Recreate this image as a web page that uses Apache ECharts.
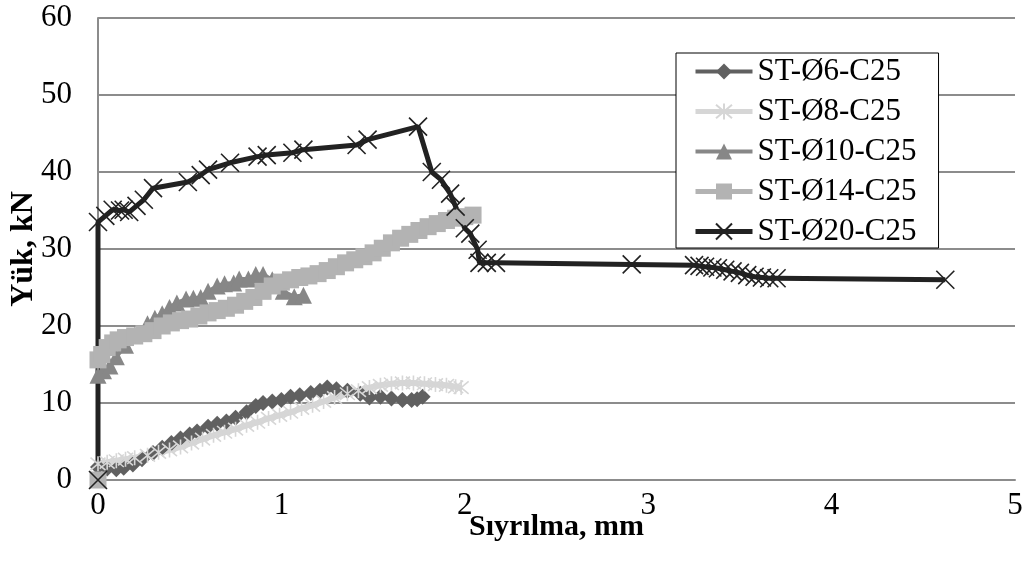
<!DOCTYPE html>
<html>
<head>
<meta charset="utf-8">
<script src="https://cdn.jsdelivr.net/npm/echarts@6/dist/echarts.min.js"></script>
<style>html,body{margin:0;padding:0;background:#fff}#c{width:1030px;height:570px}</style>
</head>
<body>
<div id="c"></div>
<script>
const seriesNames = ['ST-Ø6-C25','ST-Ø8-C25','ST-Ø10-C25','ST-Ø14-C25','ST-Ø20-C25'];
const xTicks = [0,1,2,3,4,5];
const yTicks = [0,10,20,30,40,50,60];

const d6 = [[0,1.7],[0.05,1.5],[0.1,1.4],[0.14,1.6],[0.19,2.0],[0.24,2.7],[0.3,3.5],[0.35,4.2],[0.4,4.8],[0.45,5.4],[0.5,5.9],[0.54,6.3],[0.6,6.9],[0.65,7.3],[0.7,7.6],[0.75,8.1],[0.81,8.8],[0.86,9.6],[0.9,10.0],[0.95,10.2],[1.0,10.4],[1.05,10.8],[1.1,11.0],[1.16,11.3],[1.21,11.6],[1.25,12.0],[1.3,11.8],[1.36,11.6],[1.43,11.2],[1.48,10.7],[1.54,10.8],[1.6,10.6],[1.66,10.4],[1.71,10.4],[1.74,10.5],[1.77,10.8]];
const d8 = [[0,2.1],[0.05,2.3],[0.1,2.5],[0.15,2.7],[0.2,2.9],[0.27,3.2],[0.33,3.6],[0.39,3.9],[0.45,4.3],[0.51,4.8],[0.57,5.3],[0.63,5.8],[0.69,6.2],[0.75,6.6],[0.81,7.1],[0.87,7.5],[0.93,8.0],[0.99,8.4],[1.05,8.8],[1.11,9.3],[1.17,9.7],[1.23,10.2],[1.29,10.7],[1.36,11.2],[1.42,11.6],[1.48,12.0],[1.54,12.3],[1.6,12.5],[1.66,12.6],[1.72,12.6],[1.78,12.5],[1.84,12.4],[1.9,12.3],[1.95,12.1],[1.98,12.0]];
const d10 = [[0,13.6],[0.03,14.2],[0.065,14.8],[0.1,16.0],[0.15,17.5],[0.2,18.8],[0.27,20.3],[0.31,21.0],[0.35,21.6],[0.39,22.4],[0.43,23.0],[0.48,23.5],[0.52,23.6],[0.56,23.7],[0.6,24.5],[0.65,25.2],[0.69,25.5],[0.74,25.6],[0.77,26.1],[0.82,26.1],[0.86,26.7],[0.9,26.7],[0.95,26.0],[1.01,24.5],[1.07,23.8],[1.12,24.0]];
const d14 = [[0,0],[0,15.6],[0.02,16.3],[0.05,17.2],[0.08,17.8],[0.11,18.2],[0.15,18.5],[0.2,18.7],[0.25,19.0],[0.3,19.4],[0.35,20.0],[0.4,20.4],[0.45,20.7],[0.5,20.9],[0.55,21.3],[0.6,21.7],[0.65,22.0],[0.7,22.3],[0.75,22.7],[0.8,23.2],[0.85,23.7],[0.9,24.5],[0.95,25.2],[1.0,25.7],[1.05,26.0],[1.1,26.3],[1.15,26.5],[1.2,26.8],[1.25,27.2],[1.3,27.7],[1.35,28.2],[1.4,28.6],[1.45,29.0],[1.5,29.5],[1.55,30.1],[1.6,30.8],[1.65,31.4],[1.7,31.9],[1.75,32.4],[1.8,32.9],[1.85,33.3],[1.9,33.7],[1.95,34.0],[2.0,34.2],[2.045,34.4]];
const d20 = [[0,0],[0,33.5],[0.04,34.3],[0.08,35.1],[0.12,35.0],[0.14,35.1],[0.17,34.8],[0.21,35.6],[0.25,36.4],[0.3,37.9],[0.49,38.7],[0.56,39.6],[0.6,40.3],[0.72,41.2],[0.87,42.0],[0.92,42.2],[1.06,42.5],[1.12,42.9],[1.41,43.5],[1.47,44.2],[1.745,45.9],[1.82,40.0],[1.87,39.0],[1.92,37.2],[1.95,35.5],[2.0,32.7],[2.03,32.0],[2.07,29.9],[2.08,28.2],[2.12,28.2],[2.17,28.2],[2.91,28.0],[3.25,27.9],[3.28,27.8],[3.31,27.7],[3.35,27.6],[3.38,27.5],[3.42,27.3],[3.46,27.1],[3.5,26.9],[3.54,26.6],[3.58,26.4],[3.62,26.3],[3.66,26.2],[3.7,26.2],[4.62,26.0]];

const FONT = '"Liberation Serif","Times New Roman",serif';
const CROSS = 'path://M0,0L10,10M10,0L0,10';
const ASTER = 'path://M0,0L10,10M10,0L0,10M5,-1L5,11';

function mk(name, data, color, lw, symbol, size, stroke) {
  return {
    name: name, type: 'line', data: data, symbol: symbol, symbolSize: size,
    lineStyle: {color: color, width: lw},
    itemStyle: stroke ? {color: 'rgba(0,0,0,0)', borderColor: color, borderWidth: 1.6} : {color: color, borderWidth: 0},
    emphasis: {disabled: true}
  };
}

const legendLine = [4, 5, 4, 5, 5];
const chart = echarts.init(document.getElementById('c'), null, {renderer: 'canvas'});
chart.setOption({
  animation: false,
  backgroundColor: '#fff',
  grid: {left: 98, right: 15, top: 18, bottom: 90, containLabel: false, outerBoundsMode: 'none'},
  xAxis: {
    type: 'value', min: xTicks[0], max: xTicks[xTicks.length-1], interval: 1,
    name: 'Sıyrılma, mm', nameLocation: 'middle', nameGap: 32, nameMoveOverlap: false,
    nameTextStyle: {fontFamily: FONT, fontSize: 30, fontWeight: 'bold', color: '#000'},
    axisLine: {show: true, lineStyle: {color: '#8c8c8c', width: 2}},
    axisTick: {show: false},
    splitLine: {show: false},
    axisLabel: {fontFamily: FONT, fontSize: 31, color: '#000', margin: 10}
  },
  yAxis: {
    type: 'value', min: yTicks[0], max: yTicks[yTicks.length-1], interval: 10,
    name: 'Yük, kN', nameLocation: 'middle', nameGap: 58, nameRotate: 90, nameMoveOverlap: false,
    nameTextStyle: {fontFamily: FONT, fontSize: 32, fontWeight: 'bold', color: '#000'},
    axisLine: {show: true, lineStyle: {color: '#8c8c8c', width: 2}},
    axisTick: {show: false},
    splitLine: {show: true, lineStyle: {color: '#8c8c8c', width: 2}},
    axisLabel: {fontFamily: FONT, fontSize: 31, color: '#000', margin: 26}
  },
  legend: {
    left: 676, top: 53, orient: 'vertical',
    data: seriesNames.map((n, i) => ({name: n, lineStyle: {width: legendLine[i]}})),
    backgroundColor: '#fff', borderColor: '#000', borderWidth: 1,
    padding: [3, 22, 1, 17],
    itemWidth: 57, itemHeight: 20, itemGap: 9,
    textStyle: {fontFamily: FONT, fontSize: 31, color: '#000', lineHeight: 31},
    selectedMode: false
  },
  series: [
    mk(seriesNames[0], d6, '#606060', 4, 'diamond', 16, false),
    mk(seriesNames[1], d8, '#d6d6d6', 6, ASTER, 15, true),
    mk(seriesNames[2], d10, '#878787', 4, 'triangle', 17, false),
    mk(seriesNames[3], d14, '#b3b3b3', 4, 'rect', 17, false),
    mk(seriesNames[4], d20, '#222222', 5, CROSS, 18, true)
  ]
});
</script>
</body>
</html>
